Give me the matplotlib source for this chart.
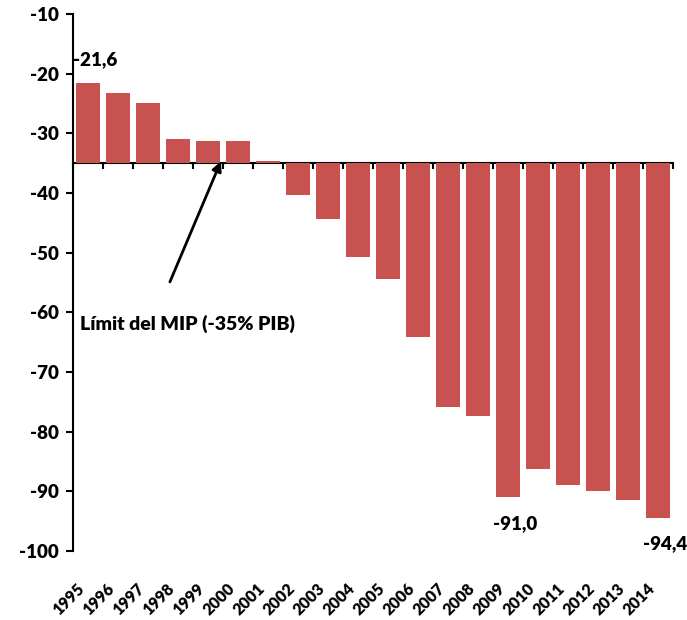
import numpy as np
import matplotlib
matplotlib.use("Agg")
import matplotlib.pyplot as plt
import matplotlib.transforms as mtransforms

# --- DATA ---
years = ['1995', '1996', '1997', '1998', '1999', '2000', '2001', '2002', '2003', '2004',
         '2005', '2006', '2007', '2008', '2009', '2010', '2011', '2012', '2013', '2014']
values = [-21.6, -23.2, -24.9, -30.9, -31.3, -31.3, -34.7, -40.4, -44.3, -50.7,
          -54.4, -64.2, -75.9, -77.4, -91.0, -86.2, -88.9, -89.9, -91.5, -94.4]
labelled = {'1995': '-21,6', '2009': '-91,0', '2014': '-94,4'}
threshold = -35
y_ticks = [-10, -20, -30, -40, -50, -60, -70, -80, -90, -100]

BAR_COLOR = '#C85250'
plt.rcParams['font.family'] = ['Lato', 'DejaVu Sans']

fig = plt.figure(figsize=(6.87, 6.20), dpi=100)
ax = fig.add_axes([73 / 687, (620 - 551) / 620, 600 / 687, 537 / 620])

x = np.arange(len(years))
vals = np.array(values)
ax.bar(x, vals - threshold, bottom=threshold, width=0.83, color=BAR_COLOR, zorder=4)

ax.set_xlim(-0.5, len(years) - 0.5)
ax.set_ylim(-100, -10)
ax.set_yticks(y_ticks)
ax.set_yticklabels([str(v) for v in y_ticks], fontsize=13.5, fontweight='heavy')
ax.tick_params(axis='y', direction='out', length=5, width=1.5, pad=5)

# x axis line sits at the -35 threshold
ax.spines['top'].set_visible(False)
ax.spines['right'].set_visible(False)
ax.spines['bottom'].set_position(('data', threshold))
ax.spines['bottom'].set_linewidth(1.5)
ax.spines['left'].set_linewidth(1.5)
ax.spines['bottom'].set_zorder(3)
ax.set_xticks(np.arange(-0.5, len(years), 1.0))
ax.set_xticklabels([])
ax.tick_params(axis='x', direction='out', length=4, width=1.5)

# year labels below the plot
trans = mtransforms.blended_transform_factory(ax.transData, ax.transAxes)
for i, yr in enumerate(years):
    ax.text(i - 0.2, -0.066, yr, transform=trans, rotation=45, ha='right', va='center',
            rotation_mode='anchor', fontsize=11.5, fontweight='heavy')

# value labels
for i, yr in enumerate(years):
    if yr in labelled:
        v = values[i]
        off = 3.9 if v > threshold else -4.4
        ax.text(i + 0.25, v + off, labelled[yr], ha='center', va='center',
                fontsize=13.5, fontweight='heavy')

# MIP limit note and arrow
ax.annotate('', xy=(4.43, threshold + 0.3), xytext=(2.73, -54.9),
            arrowprops=dict(arrowstyle='-|>', color='black', lw=2, mutation_scale=14,
                            shrinkA=0, shrinkB=0), zorder=5)
ax.text(-0.27, -62.0, 'Límit del MIP (-35% PIB)', ha='left', va='center',
        fontsize=14, fontweight='heavy')

fig.savefig('out.png', dpi=100)
